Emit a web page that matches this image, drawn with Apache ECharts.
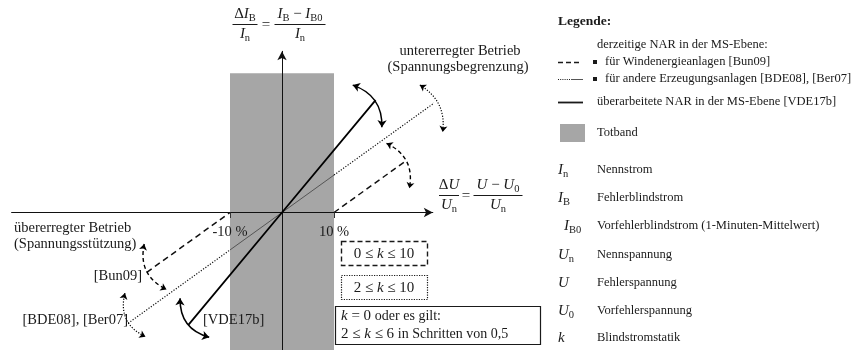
<!DOCTYPE html>
<html>
<head>
<meta charset="utf-8">
<script src="https://cdn.jsdelivr.net/npm/echarts@6/dist/echarts.min.js"></script>
<style>
html, body { margin: 0; padding: 0; background: #fff; }
#chart { width: 864px; height: 350px; }
</style>
</head>
<body>
<div id="chart"></div>
<script>
// ---- characteristic data (ΔU/Un in %, ΔIB/In in %) ----
const deadband = [-10, 10];
const tickValues = [-10, 10];
const bandTop = 26.8;

// revised characteristic [VDE17b]
const vdeX = [-18, 0, 18];
const vdeY = [-21.6, 0, 21.6];

// other generating units [BDE08], [Ber07]
const bdeX = [-29.6, -10, 0, 10, 29.6];
const bdeY = [-21.3, -7.2, 0, 7.2, 21.3];

// wind turbines [Bun09]
const bunLowX = [-26, -10];
const bunLowY = [-11.5, 0];
const bunUpX = [10, 23.5];
const bunUpY = [0, 9.7];

// slope-range arrows: start and end point of each arc
const arcSolidPts = [[[13.6, 24.5], [19.2, 16.4]], [[-19.6, -16.5], [-14.0, -24.0]]];
const arcDottedPts = [[[26.5, 24.5], [30.9, 15.5]], [[-30.2, -15.5], [-26.25, -23.9]]];
const arcDashedPts = [[[20.1, 13.3], [24.5, 4.65]], [[-26.5, -6.06], [-22.2, -14.8]]];

// legend terms
const termSymbols = ['{v|I}{s|n}', '{v|I}{s|B}', '{v|I}{s|B0}', '{v|U}{s|n}', '{v|U}', '{v|U}{s|0}', '{v|k}'];
const termNames = ['Nennstrom', 'Fehlerblindstrom', 'Vorfehlerblindstrom (1-Minuten-Mittelwert)',
  'Nennspannung', 'Fehlerspannung', 'Vorfehlerspannung', 'Blindstromstatik'];

// ---- helpers ----
const SERIF = "'Liberation Serif', 'Times New Roman', serif";
const INK = '#1a1a1a';
const zip = (xs, ys) => xs.map((x, i) => [x, ys[i]]);

const mathRich = {
  v: { fontFamily: SERIF, fontStyle: 'italic', fontSize: 15, lineHeight: 18, fill: INK },
  r: { fontFamily: SERIF, fontSize: 15, lineHeight: 18, fill: INK },
  s: { fontFamily: SERIF, fontSize: 10.5, height: 10, lineHeight: 10, verticalAlign: 'bottom', fill: INK },
  t: { fontFamily: SERIF, fontSize: 14, lineHeight: 18, fill: INK }
};

function text(str, x, y, opt) {
  opt = opt || {};
  return {
    type: 'text', x: x, y: y, silent: true, z: 10,
    style: {
      text: str,
      fill: opt.fill || INK,
      fontFamily: SERIF,
      fontSize: opt.size || 14.5,
      fontWeight: opt.weight || 'normal',
      align: opt.align || 'left', textAlign: opt.align || 'left',
      verticalAlign: opt.va || 'middle', textVerticalAlign: opt.va || 'middle',
      rich: opt.rich
    }
  };
}
function hline(x1, x2, y, opt) {
  opt = opt || {};
  return {
    type: 'line', silent: true, z: 10,
    shape: { x1: x1, y1: y, x2: x2, y2: y },
    style: { stroke: opt.stroke || INK, lineWidth: opt.width || 1, lineDash: opt.dash || null }
  };
}
function box(x, y, w, h, opt) {
  opt = opt || {};
  return {
    type: 'rect', silent: true, z: 10,
    shape: { x: x, y: y, width: w, height: h },
    style: { fill: opt.fill || 'none', stroke: opt.stroke || null, lineWidth: opt.width || 1, lineDash: opt.dash || null }
  };
}
function fraction(cx, by, w, num, den) {
  return [
    text(num, cx, by - 1, { align: 'center', va: 'bottom', rich: mathRich }),
    hline(cx - w / 2, cx + w / 2, by + 0.5, { width: 1 }),
    text(den, cx, by + 1, { align: 'center', va: 'top', rich: mathRich })
  ];
}

// ---- plot geometry ----
const PX = 5.2; // pixels per percent on both axes
const xMin = -52, xMax = 29, yMin = -27, yMax = 31;
const originX = 282, originY = 212.5;

// ---- graphic annotations ----
const LEG = 12.5;
const g = [];
// axis titles
g.push(...fraction(245, 24, 25, '{r|Δ}{v|I}{s|B}', '{v|I}{s|n}'));
g.push(text('{r|=}', 266, 25, { align: 'center', rich: mathRich }));
g.push(...fraction(300, 24, 51, '{v|I}{s|B}{r| − }{v|I}{s|B0}', '{v|I}{s|n}'));
g.push(...fraction(449, 195, 20, '{r|Δ}{v|U}', '{v|U}{s|n}'));
g.push(text('{r|=}', 466, 196, { align: 'center', rich: mathRich }));
g.push(...fraction(498, 195, 49, '{v|U}{r| − }{v|U}{s|0}', '{v|U}{s|n}'));

// ticks and tick labels on the ΔU axis
tickValues.forEach(v => {
  const x = Math.round(originX + v * PX) + 0.5;
  g.push({ type: 'line', silent: true, z: 10, shape: { x1: x, y1: originY, x2: x, y2: originY + 5.5 }, style: { stroke: '#333', lineWidth: 1 } });
  g.push(text(v + ' %', originX + v * PX, originY + 20, { align: 'center' }));
});

// operating mode captions
g.push(text('untererregter Betrieb', 460, 51, { align: 'center' }));
g.push(text('(Spannungsbegrenzung)', 458, 67, { align: 'center' }));
g.push(text('übererregter Betrieb', 14, 228));
g.push(text('(Spannungsstützung)', 14, 244));
g.push(text('[Bun09]', 142, 276, { align: 'right' }));
g.push(text('[BDE08], [Ber07]', 128, 320, { align: 'right' }));
g.push(text('[VDE17b]', 203, 320));

// statik ranges
g.push(box(341.5, 241.5, 86, 24, { stroke: INK, width: 1.4, dash: [5, 3] }));
g.push(text('{r|0 ≤ }{v|k}{r| ≤ 10}', 384, 254, { align: 'center', rich: mathRich }));
g.push(box(341.5, 275.5, 86, 24, { stroke: INK, width: 1.2, dash: [1.2, 1.3] }));
g.push(text('{r|2 ≤ }{v|k}{r| ≤ 10}', 384, 288, { align: 'center', rich: mathRich }));
g.push(box(335.5, 306.5, 205, 38, { stroke: INK, width: 1.2, fill: '#fff' }));
g.push(text('{v|k}{r| = 0 }{t|oder es gilt:}', 341, 316, { rich: mathRich }));
g.push(text('{r|2 ≤ }{v|k}{r| ≤ 6 }{t|in Schritten von 0,5}', 341, 334, { rich: mathRich }));

// legend
const LX = 558, TX = 597;
g.push(text('Legende:', LX, 22, { size: 13.5, weight: 'bold' }));
g.push(text('derzeitige NAR in der MS-Ebene:', TX, 45, { size: LEG }));
g.push(hline(LX, 582, 62.5, { width: 1.4, dash: [5, 3] }));
g.push(box(593, 60, 4, 4, { fill: INK }));
g.push(text('für Windenergieanlagen [Bun09]', 605, 62, { size: LEG }));
g.push(hline(LX, 571, 79.5, { width: 1, dash: [1, 1.2] }));
g.push(hline(571, 583, 79.5, { width: 1, stroke: '#555' }));
g.push(box(593, 77, 4, 4, { fill: INK }));
g.push(text('für andere Erzeugungsanlagen [BDE08], [Ber07]', 605, 79, { size: LEG }));
g.push(hline(LX, 583, 102.5, { width: 1.8 }));
g.push(text('überarbeitete NAR in der MS-Ebene [VDE17b]', TX, 102, { size: LEG }));
g.push(box(560, 124, 25, 18, { fill: '#a6a6a6' }));
g.push(text('Totband', TX, 133, { size: LEG }));
const termY = [170, 198, 226, 255, 283, 311, 338];
termSymbols.forEach((s, i) => {
  g.push(text(s, i === 2 ? 564 : LX, termY[i], { rich: mathRich }));
  g.push(text(termNames[i], TX, termY[i], { size: LEG }));
});

// ---- chart ----
function arcData(pts, bends) {
  return pts.map((p, i) => ({ coords: p, lineStyle: { curveness: bends[i] } }));
}

const axisLineStyle = { color: '#111', width: 1 };

const option = {
  animation: false,
  grid: {
    left: originX + xMin * PX,
    top: originY - yMax * PX,
    width: (xMax - xMin) * PX,
    height: (yMax - yMin) * PX,
    containLabel: false,
    outerBoundsMode: 'none'
  },
  xAxis: {
    type: 'value', min: xMin, max: xMax, z: 3,
    axisLine: { onZero: true, symbol: ['none', 'arrow'], symbolSize: [7, 9], lineStyle: axisLineStyle },
    axisTick: { show: false },
    axisLabel: { show: false },
    splitLine: { show: false }
  },
  yAxis: {
    type: 'value', min: yMin, max: yMax, z: 3,
    axisLine: { onZero: true, symbol: ['none', 'arrow'], symbolSize: [7, 9], lineStyle: axisLineStyle },
    axisTick: { show: false },
    axisLabel: { show: false },
    splitLine: { show: false }
  },
  series: [
    {
      // dead band
      type: 'custom', z: 1, silent: true, clip: false,
      data: [[deadband[0], bandTop, deadband[1], yMin]],
      encode: { x: [0, 2], y: [1, 3] },
      renderItem: (params, api) => {
        const a = api.coord([api.value(0), api.value(1)]);
        const b = api.coord([api.value(2), api.value(3)]);
        return { type: 'rect', shape: { x: a[0], y: a[1], width: b[0] - a[0], height: b[1] - a[1] }, style: { fill: '#a6a6a6' } };
      }
    },
    {
      type: 'line', z: 4, silent: true, clip: false, showSymbol: false,
      data: zip(bdeX, bdeY).slice(1, 4),
      lineStyle: { color: '#555', width: 1 }
    },
    {
      type: 'line', z: 4, silent: true, clip: false, showSymbol: false,
      data: zip(bdeX, bdeY).slice(0, 2),
      lineStyle: { color: '#111', width: 1.2, type: [1.2, 1.6] }
    },
    {
      type: 'line', z: 4, silent: true, clip: false, showSymbol: false,
      data: zip(bdeX, bdeY).slice(3, 5),
      lineStyle: { color: '#111', width: 1.2, type: [1.2, 1.6] }
    },
    {
      type: 'line', z: 4, silent: true, clip: false, showSymbol: false,
      data: zip(bunLowX, bunLowY),
      lineStyle: { color: '#111', width: 1.5, type: [6, 4] }
    },
    {
      type: 'line', z: 4, silent: true, clip: false, showSymbol: false,
      data: zip(bunUpX, bunUpY),
      lineStyle: { color: '#111', width: 1.5, type: [6, 4] }
    },
    {
      type: 'line', z: 5, silent: true, clip: false, showSymbol: false,
      data: zip(vdeX, vdeY),
      lineStyle: { color: '#000', width: 1.8 }
    },
    {
      type: 'lines', coordinateSystem: 'cartesian2d', z: 5, silent: true, clip: false,
      symbol: ['arrow', 'arrow'], symbolSize: 7,
      lineStyle: { color: '#000', width: 1.5, opacity: 1 },
      data: arcData(arcSolidPts, [0.37, -0.39])
    },
    {
      type: 'lines', coordinateSystem: 'cartesian2d', z: 5, silent: true, clip: false,
      symbol: ['arrow', 'arrow'], symbolSize: 6,
      lineStyle: { color: '#000', width: 1.2, type: [1.2, 1.6], opacity: 1 },
      data: arcData(arcDottedPts, [0.33, -0.41])
    },
    {
      type: 'lines', coordinateSystem: 'cartesian2d', z: 5, silent: true, clip: false,
      symbol: ['arrow', 'arrow'], symbolSize: 6,
      lineStyle: { color: '#000', width: 1.4, type: [4, 3], opacity: 1 },
      data: arcData(arcDashedPts, [0.385, -0.39])
    }
  ],
  graphic: { elements: g }
};

const chart = echarts.init(document.getElementById('chart'), null, { renderer: 'canvas' });
chart.setOption(option);
</script>
</body>
</html>
